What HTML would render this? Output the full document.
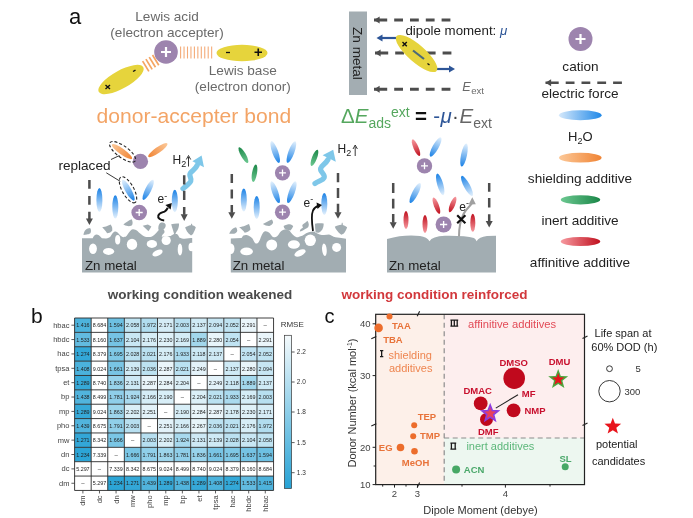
<!DOCTYPE html><html><head><meta charset="utf-8"><style>html,body{margin:0;padding:0;background:#fff;}svg{display:block;filter:blur(0.4px);}text{font-family:"Liberation Sans", sans-serif;}</style></head><body>
<svg width="693" height="518" viewBox="0 0 693 518">
<defs>
<linearGradient id="gB" x1="0" y1="0" x2="1" y2="0"><stop offset="0" stop-color="#e4f1fd"/><stop offset="1" stop-color="#1b82e6"/></linearGradient>
<linearGradient id="gBL" x1="0" y1="0" x2="1" y2="0"><stop offset="0" stop-color="#d4e8fb"/><stop offset="1" stop-color="#2189e8"/></linearGradient>
<linearGradient id="gO" x1="0" y1="0" x2="1" y2="0"><stop offset="0" stop-color="#fcc898"/><stop offset="1" stop-color="#f08434"/></linearGradient>
<linearGradient id="gG" x1="0" y1="0" x2="1" y2="0"><stop offset="0" stop-color="#6cc891"/><stop offset="1" stop-color="#1b8748"/></linearGradient>
<linearGradient id="gR" x1="0" y1="0" x2="1" y2="0"><stop offset="0" stop-color="#f79aa0"/><stop offset="1" stop-color="#c0101e"/></linearGradient>
<linearGradient id="gCB" x1="0" y1="1" x2="0" y2="0"><stop offset="0" stop-color="#26a2d5"/><stop offset="1" stop-color="#f5fafc"/></linearGradient>
</defs>
<text x="69" y="24" font-size="22" fill="#111" font-weight="normal" text-anchor="start"  >a</text>
<text x="167" y="21" font-size="13.6" fill="#6a6a6a" font-weight="normal" text-anchor="middle"  >Lewis acid</text>
<text x="167" y="37" font-size="13.6" fill="#6a6a6a" font-weight="normal" text-anchor="middle"  >(electron accepter)</text>
<text x="242.8" y="75" font-size="13.6" fill="#6a6a6a" font-weight="normal" text-anchor="middle"  >Lewis base</text>
<text x="242.8" y="91" font-size="13.6" fill="#6a6a6a" font-weight="normal" text-anchor="middle"  >(electron donor)</text>
<text x="193.8" y="123" font-size="21.1" fill="#f3a466" font-weight="normal" text-anchor="middle"  >donor-accepter bond</text>
<line x1="180.60" y1="46.5" x2="180.60" y2="58.5" stroke="#f4ab78" stroke-width="1.1"/>
<line x1="184.05" y1="46.5" x2="184.05" y2="58.5" stroke="#f4ab78" stroke-width="1.1"/>
<line x1="187.50" y1="46.5" x2="187.50" y2="58.5" stroke="#f4ab78" stroke-width="1.1"/>
<line x1="190.95" y1="46.5" x2="190.95" y2="58.5" stroke="#f4ab78" stroke-width="1.1"/>
<line x1="194.40" y1="46.5" x2="194.40" y2="58.5" stroke="#f4ab78" stroke-width="1.1"/>
<line x1="197.85" y1="46.5" x2="197.85" y2="58.5" stroke="#f4ab78" stroke-width="1.1"/>
<line x1="201.30" y1="46.5" x2="201.30" y2="58.5" stroke="#f4ab78" stroke-width="1.1"/>
<line x1="204.75" y1="46.5" x2="204.75" y2="58.5" stroke="#f4ab78" stroke-width="1.1"/>
<line x1="208.20" y1="46.5" x2="208.20" y2="58.5" stroke="#f4ab78" stroke-width="1.1"/>
<line x1="211.65" y1="46.5" x2="211.65" y2="58.5" stroke="#f4ab78" stroke-width="1.1"/>
<line x1="142.63" y1="61.15" x2="148.87" y2="71.35" stroke="#f5a562" stroke-width="1.7"/>
<line x1="145.93" y1="59.12" x2="152.17" y2="69.32" stroke="#f5a562" stroke-width="1.7"/>
<line x1="149.23" y1="57.09" x2="155.47" y2="67.29" stroke="#f5a562" stroke-width="1.7"/>
<line x1="152.53" y1="55.06" x2="158.77" y2="65.26" stroke="#f5a562" stroke-width="1.7"/>
<ellipse cx="0" cy="0" rx="25.5" ry="9" fill="#e6d43c" transform="translate(121,79.5) rotate(-29)"/>
<ellipse cx="242" cy="53" rx="25.5" ry="8.2" fill="#e6d43c"/>
<circle cx="166" cy="52" r="11.8" fill="#9d84ae"/>
<path d="M161,52H171M166,47V57" stroke="#fff" stroke-width="2.2"/>
<path d="M226,52.5h4" stroke="#111" stroke-width="1.3"/>
<path d="M254.5,52.3h7.5M258.25,48.5v7.5" stroke="#111" stroke-width="1.6"/>
<path d="M133,71.5l2.5,-1.3" stroke="#111" stroke-width="1.4"/>
<path d="M105.5,85l4.5,4M110,85l-4.5,4" stroke="#111" stroke-width="1.4"/>
<rect x="349" y="11.5" width="18" height="83.5" fill="#a3adb2"/>
<text x="0" y="0" font-size="13.6" fill="#222" transform="translate(353.3,27) rotate(90)">Zn metal</text>
<line x1="374.00" y1="20.00" x2="451" y2="20" stroke="#4d4d4d" stroke-width="3" stroke-dasharray="13.2,7.0,8.8,7.0,8.8,7.0,8.8,7.0,8.8,7.0,8.8,7.0,8.8,7.0"/>
<path d="M374,20L379.60,16.50L379.60,23.50Z" fill="#4d4d4d"/>
<line x1="375.00" y1="53.00" x2="452" y2="53" stroke="#4d4d4d" stroke-width="3" stroke-dasharray="13.2,7.0,8.8,7.0,8.8,7.0,8.8,7.0,8.8,7.0,8.8,7.0,8.8,7.0"/>
<path d="M375,53L380.60,49.50L380.60,56.50Z" fill="#4d4d4d"/>
<line x1="374.00" y1="89.30" x2="451" y2="89.3" stroke="#4d4d4d" stroke-width="3" stroke-dasharray="13.2,7.0,8.8,7.0,8.8,7.0,8.8,7.0,8.8,7.0,8.8,7.0,8.8,7.0"/>
<path d="M374,89.3L379.60,85.80L379.60,92.80Z" fill="#4d4d4d"/>
<line x1="397" y1="38" x2="381.50" y2="38.00" stroke="#2d5597" stroke-width="2.2"/>
<path d="M376.5,38L382.50,34.50L382.50,41.50Z" fill="#2d5597"/>
<line x1="435" y1="69" x2="450.00" y2="69.00" stroke="#2d5597" stroke-width="2.2"/>
<path d="M455,69L449.00,72.50L449.00,65.50Z" fill="#2d5597"/>
<ellipse cx="0" cy="0" rx="26.5" ry="8.6" fill="#e6d43c" transform="translate(416.6,53.5) rotate(41)"/>
<path d="M402.5,42l4.3,4.3M406.8,42l-4.3,4.3" stroke="#111" stroke-width="1.4"/>
<path d="M413,50.5L424,59" stroke="#4b6a7a" stroke-width="2.2"/>
<path d="M427.5,63.5l2,1.6" stroke="#111" stroke-width="1.3"/>
<text x="405.4" y="35" font-size="13.3" fill="#222" font-weight="normal" text-anchor="start"  >dipole moment: <tspan fill="#2d5597" font-style="italic">μ</tspan></text>
<text x="462.3" y="91.2" font-size="12.8" fill="#6a6a6a" font-weight="normal" text-anchor="start"  ><tspan font-style="italic" font-size="12.8">E</tspan><tspan font-size="9.6" dy="2.6" dx="0.3">ext</tspan></text>
<text x="341" y="123" font-size="20.5" fill="#55a75e">Δ<tspan font-style="italic">E</tspan><tspan font-size="14" dy="4.5">ads</tspan><tspan font-size="14" dy="-11">ext</tspan><tspan fill="#111" dy="6.5" dx="5.3" font-weight="bold">=</tspan><tspan fill="#2d5597" dx="6.3">-</tspan><tspan fill="#2d5597" font-style="italic" dx="0.4">μ</tspan><tspan fill="#444" dx="0.4">·</tspan><tspan fill="#666" font-style="italic" dx="0.6">E</tspan><tspan fill="#666" font-size="14" dy="4.5">ext</tspan></text>
<circle cx="580.5" cy="39" r="12" fill="#9d84ae"/>
<path d="M575.5,39H585.5M580.5,34V44" stroke="#fff" stroke-width="2.2"/>
<text x="580.5" y="71" font-size="13.6" fill="#222" font-weight="normal" text-anchor="middle"  >cation</text>
<line x1="545.50" y1="82.80" x2="622" y2="82.8" stroke="#4d4d4d" stroke-width="2.6" stroke-dasharray="13.2,7.0,8.8,7.0,8.8,7.0,8.8,7.0,8.8,7.0,8.8,7.0,8.8,7.0"/>
<path d="M545.5,82.8L551.10,79.30L551.10,86.30Z" fill="#4d4d4d"/>
<text x="580" y="98" font-size="13.6" fill="#222" font-weight="normal" text-anchor="middle"  >electric force</text>
<ellipse cx="580.3" cy="115.2" rx="21.3" ry="5" fill="url(#gBL)"/>
<text x="580.3" y="141" font-size="13" fill="#222" text-anchor="middle">H<tspan font-size="9" dy="3">2</tspan><tspan dy="-3">O</tspan></text>
<ellipse cx="580.3" cy="157.7" rx="21.3" ry="4.9" fill="url(#gO)"/>
<text x="580" y="183" font-size="13.6" fill="#222" font-weight="normal" text-anchor="middle"  >shielding additive</text>
<ellipse cx="580.5" cy="199.8" rx="19.7" ry="4.6" fill="url(#gG)"/>
<text x="580" y="225" font-size="13.6" fill="#222" font-weight="normal" text-anchor="middle"  >inert additive</text>
<ellipse cx="580.5" cy="241.5" rx="19.7" ry="4.5" fill="url(#gR)"/>
<text x="580" y="266.5" font-size="13.6" fill="#222" font-weight="normal" text-anchor="middle"  >affinitive additive</text>
<path d="M82,238.2 L92.7,238.2 C93.5,236 95,234.6 96.7,234.5 C98,234.5 99.5,235.5 101.9,238.2 L106,238.5 C108,238.2 109.5,237.5 110.5,236.5 C111.5,235 112.5,232.5 114,231.9 C115,231.4 116,231.2 117.3,232.3 C118.5,233.5 120.5,236 122.5,237.1 C124,237.3 125.5,237 126.5,236 C127.5,234.5 128.5,233 130,231.2 C131,230 131.8,229.3 132.8,229.2 C134.5,229.1 136,229.8 137.5,231 C139.5,233 141,234.5 142.7,235.4 C144.5,236.4 146,237.1 147.3,237.1 C149.5,237.2 151,236.8 152,236.5 C153.5,235.5 155,234.2 156,233.2 C157,232 158,231 158.8,230 L158.3,229 C158.3,226 158.8,223.5 161,222.6 C163,222 165,222.6 165.6,224.5 C166,226.5 165,228.5 163.5,229.3 C164.5,230.5 164.8,232 164.3,232.8 C163.2,234 162,235.2 161.7,236.7 L170.8,236 C172,235 173.5,234.5 174.2,233.8 L175.2,233.8 C175.8,234 176.2,234 176.7,234.1 C178,234.5 178.8,236.5 179.3,237.4 C181,238.3 183,238.7 184.5,238.7 L191,238 L192.2,238 L192.2,272.6 L82,272.6 Z" fill="#a2adb2"/>
<ellipse cx="0" cy="0" rx="3.9" ry="5.2" fill="#fff" transform="translate(93,248.8) rotate(0)"/>
<ellipse cx="0" cy="0" rx="5.6" ry="3.5" fill="#fff" transform="translate(108.6,251.4) rotate(0)"/>
<ellipse cx="0" cy="0" rx="2.6" ry="4.8" fill="#fff" transform="translate(117.7,239.7) rotate(0)"/>
<ellipse cx="0" cy="0" rx="5.2" ry="5.6" fill="#fff" transform="translate(132,244.4) rotate(0)"/>
<ellipse cx="0" cy="0" rx="5.2" ry="3.9" fill="#fff" transform="translate(151.9,244) rotate(0)"/>
<ellipse cx="0" cy="0" rx="4.6" ry="4.6" fill="#fff" transform="translate(166.2,240.5) rotate(0)"/>
<ellipse cx="0" cy="0" rx="5.5" ry="2.8" fill="#fff" transform="translate(157.5,253) rotate(-25)"/>
<ellipse cx="0" cy="0" rx="2.3" ry="6" fill="#fff" transform="translate(180,249.6) rotate(0)"/>
<ellipse cx="0" cy="0" rx="3" ry="4.2" fill="#fff" transform="translate(191.5,247) rotate(0)"/>
<path d="M83.5,235 C83.8,232.5 84.5,231 85.5,230 C87,228.8 88.5,228.2 90.1,228.1 C90.8,229 91.1,230 91,231 C90.9,232 90.7,232.8 90.4,233.3 C89,234.2 88,234.4 86.9,234.5 C85.5,234.6 84.5,234.8 83.5,235 Z" fill="#a2adb2"/>
<path d="M102.2,227.3 L106,226.5 L110.6,224.4 C111.5,225.5 112,226.5 112.2,227.8 L112.3,230.4 C111.5,231.5 110.5,232.3 109.5,232.8 L107.1,233.2 C106,231.5 105,230.5 104.3,229.5 Z" fill="#a2adb2"/>
<path d="M123.4,224.4 C125.5,222.5 128.5,220.5 131.7,219.2 C132.3,220.2 132.6,221.5 132.6,222.7 C132.5,224 132.2,225 131.7,225.5 C130.5,226 129,226.2 127.7,226.1 C126,225.8 124.5,225.2 123.4,224.4 Z" fill="#a2adb2"/>
<path d="M142.7,225.8 L147.9,224.4 L151.4,226.4 L148.5,231.3 Z" fill="#a2adb2"/>
<path d="M171.2,224.3 C173.5,223.7 176.5,223.4 179,223.6 C179.2,226 178.5,228.5 177.5,230.3 C176.5,231.8 175.8,232.8 175.2,234.5 L174.2,234.5 C173.5,231 172.2,228 171.2,224.3 Z" fill="#a2adb2"/>
<path d="M185.1,227.6 C186.5,226.5 188.5,225.5 190.8,225.2 L191.2,223.7 L192,223.7 L192.3,225.2 C193.8,225.6 195,226.3 195.8,227.3 C195.2,229.5 194,232 193,234 L191,235.4 C189.5,234.5 188,233 187,231.5 C186.2,230 185.5,228.8 185.1,227.6 Z" fill="#a2adb2"/>
<text x="85" y="269.6" font-size="13.3" fill="#222" font-weight="normal" text-anchor="start"  >Zn metal</text>
<path d="M230.8,238.4 L241.6,238.1 C242.3,237 242.8,236 243.4,235.6 C244.5,235 245.5,234.9 246.5,235 C247.8,235.2 248.8,235.6 249.6,236.2 C250.8,237 251.5,237.5 252.1,238.1 C252.8,239 253.3,240.3 253.9,241.2 C254.6,242.5 255.5,243.6 256.4,243.6 C257.5,243.6 258.3,242.8 258.9,241.8 C259.8,240.5 260.2,239 260.7,237.5 C261.5,235.5 262.3,233.8 263.2,232.5 C264,231.6 264.8,231.4 265.7,231.3 C266.5,231.3 267,231.5 267.6,231.8 C268.8,232.3 269.3,233 270,233.6 C271,234.8 271.7,236 272.5,236.7 C273.3,237.2 274.2,237.3 275,237.3 C276,237.2 276.8,236.8 277.4,236.1 C278.3,235 279,233.6 279.9,232.4 C280.8,231.2 281.8,230.3 283,229.9 C284.3,229.4 285.5,229.2 286.7,229.3 C288,229.5 289,230.2 289.8,231.1 C290.8,232.4 291.8,233.8 292.9,234.8 C294,235.8 295.2,236.8 296.6,237.3 C298,237.6 299,236.8 302.3,235.8 C304,234.8 305.5,233.5 306.7,232.9 C308,232.3 309.5,232 311,231.8 L314.6,231.5 L315.2,232.6 L319.6,234.4 C321,234.8 322.5,235.1 324,235.1 C325.8,235 327.5,234.5 329,234.4 C330,234.5 331,235.3 331.9,235.8 C333,236.5 334.2,237 335.5,237.3 L341.3,238 L346,238.7 L346,272.6 L230.8,272.6 Z" fill="#a2adb2"/>
<ellipse cx="0" cy="0" rx="3.5" ry="5.2" fill="#fff" transform="translate(231,248.8) rotate(0)"/>
<ellipse cx="0" cy="0" rx="6.3" ry="3.9" fill="#fff" transform="translate(246.6,251.4) rotate(0)"/>
<ellipse cx="0" cy="0" rx="5.5" ry="5.5" fill="#fff" transform="translate(271.7,244.9) rotate(0)"/>
<ellipse cx="0" cy="0" rx="6" ry="4.3" fill="#fff" transform="translate(293.9,244.5) rotate(0)"/>
<ellipse cx="0" cy="0" rx="5.6" ry="5.8" fill="#fff" transform="translate(310.3,240.3) rotate(0)"/>
<ellipse cx="0" cy="0" rx="6" ry="2.9" fill="#fff" transform="translate(300,253) rotate(-25)"/>
<ellipse cx="0" cy="0" rx="2.3" ry="6.3" fill="#fff" transform="translate(324.4,249.7) rotate(-5)"/>
<ellipse cx="0" cy="0" rx="4.5" ry="4.5" fill="#fff" transform="translate(336.6,247.4) rotate(0)"/>
<path d="M229.2,233.8 C230,231.5 231.5,229.5 233,228.5 C234,227.8 235,227.4 236,227.3 C236.8,228.2 237.2,229.5 237.3,230.7 C237,232 236,233.2 234.2,233.8 Z" fill="#a2adb2"/>
<path d="M239.1,227.3 C241.5,226.8 243.5,226.5 245,225.8 C246.5,225 247.8,224.3 249,223.9 C249.8,225.5 250.3,227.5 250.5,229.4 C249.5,231 247.5,232.2 244.7,232.8 C243.5,231 241.5,229 239.1,227.3 Z" fill="#a2adb2"/>
<path d="M262.9,224 C265,222.8 267.5,221.5 269.5,220.5 C270.3,220 271.2,219.6 271.9,219.4 C272.6,220.3 273,221.3 273.1,222.5 C272.8,224 271.5,225.3 269.4,225.9 C267,226 264.8,225.3 262.9,224 Z" fill="#a2adb2"/>
<path d="M283.6,225.9 C285.5,225 287.8,224.3 289.8,224.3 C291.3,224.6 292.5,225.3 293.2,226.2 C292.6,227.8 291.6,229.3 290.4,230.5 C288.5,230.3 286,229.5 284.3,228.2 Z" fill="#a2adb2"/>
<path d="M299.8,231.5 C299.9,230.3 300.3,229.5 300.9,229 C301.7,228.4 302.5,228 303,227.5 C302.5,226.5 302.2,225.7 302.3,225 C303.2,224 304.2,223.3 305.2,222.8 C306,222.2 306.8,221.3 307.4,220.7 C308.2,221.8 308.7,223 308.8,224.3 C308.8,225.5 308.6,226.5 308.1,227.2 C307.2,228 306.2,228.5 305.2,229 C304.2,229.7 303.2,230.3 302.3,230.8 C301.5,231.3 300.6,231.5 299.8,231.5 Z" fill="#a2adb2"/>
<path d="M315,223.8 C317.5,223.3 320.5,223.2 323.6,223.5 C323.8,225.5 323.3,227.5 322.3,229.5 C321.3,231 320,232.2 318.5,232.8 L315.6,232.6 C315.2,229.5 315,226.5 315,223.8 Z" fill="#a2adb2"/>
<path d="M334.8,226.8 C336.5,225.7 338.8,225 341.5,224.8 L341.8,222.8 L342.6,222.8 L342.9,224.9 C344.6,225.4 346,226.2 347.1,227.2 C346.5,229.5 345,232 343.5,233.8 L341.3,234.7 C339.5,233.5 338,232 336.8,230.3 C335.8,229.2 335.2,228 334.8,226.8 Z" fill="#a2adb2"/>
<text x="232.7" y="269.6" font-size="13.3" fill="#222" font-weight="normal" text-anchor="start"  >Zn metal</text>
<path d="M387,238.9 Q405,234 420,236 Q427,237 429.5,241.3 Q432,236.5 445,235.8 Q465,235.5 474,238 Q476,239.5 476.6,241.3 Q479,237 487,236 L496,235.8 L496,272.6 L387,272.6 Z" fill="#a2adb2"/>
<text x="389" y="269.6" font-size="13.3" fill="#222" font-weight="normal" text-anchor="start"  >Zn metal</text>
<path d="M89.4,180.1V188.8M89.4,196.1V204.8M89.4,211.7V218.9" stroke="#4d4d4d" stroke-width="2.5" fill="none"/>
<path d="M89.4,225L85.9,218.4L92.9,218.4Z" fill="#4d4d4d"/>
<ellipse cx="0" cy="0" rx="12.3" ry="2.9" fill="url(#gO)" transform="translate(122,151.6) rotate(35.6)"/>
<ellipse cx="0" cy="0" rx="11.6" ry="2.9" fill="url(#gO)" transform="translate(157.8,150.2) rotate(145)"/>
<circle cx="140.4" cy="161.4" r="7.7" fill="#9d84ae"/>
<ellipse cx="0" cy="0" rx="15.6" ry="5.8" fill="none" stroke="#222" stroke-width="1.1" stroke-dasharray="3,2" transform="translate(122.6,151.8) rotate(36)"/>
<ellipse cx="0" cy="0" rx="11.9" ry="3.0" fill="url(#gB)" transform="translate(128.3,190.2) rotate(60.9)"/>
<ellipse cx="0" cy="0" rx="14.6" ry="5.8" fill="none" stroke="#222" stroke-width="1.1" stroke-dasharray="3,2" transform="translate(128,189.8) rotate(61)"/>
<ellipse cx="0" cy="0" rx="11.2" ry="3.0" fill="url(#gB)" transform="translate(148.2,189.8) rotate(116.6)"/>
<circle cx="139.2" cy="212.5" r="7.8" fill="#9d84ae"/>
<path d="M135.69,212.5H142.70999999999998M139.2,208.99V216.01" stroke="#fff" stroke-width="1.326"/>
<ellipse cx="0" cy="0" rx="12" ry="3.0" fill="url(#gB)" transform="translate(99.4,200) rotate(-90)"/>
<ellipse cx="0" cy="0" rx="11.7" ry="3.0" fill="url(#gB)" transform="translate(115.3,206.9) rotate(-90)"/>
<ellipse cx="0" cy="0" rx="11.2" ry="3.0" fill="url(#gB)" transform="translate(174.8,201) rotate(-90)"/>
<text x="58.4" y="169.8" font-size="13.6" fill="#222" font-weight="normal" text-anchor="start"  >replaced</text>
<path d="M111,159.5L119.5,155.5M106.3,172.8L120.2,181.3" stroke="#222" stroke-width="0.9"/>
<text x="157.5" y="203" font-size="12" fill="#222">e<tspan font-size="9" dy="-4.5">-</tspan></text>
<path d="M164.2,220.4 C160,220 157.6,218 158.3,215.6 C159,213 162,212.6 164.5,211.6 C166.3,210.8 167,209.5 167.8,207.8" fill="none" stroke="#111" stroke-width="2"/>
<path d="M171.8,203 L165.4,205 L170.6,209.4 Z" fill="#111"/>
<text x="172.5" y="163.6" font-size="12" fill="#222">H<tspan font-size="9" dy="3">2</tspan></text>
<path d="M188.5,166.5V157M186.3,159.5L188.5,155.5L190.7,159.5" stroke="#222" stroke-width="0.9" fill="none"/>
<path d="M183,188.6 C186,186 189.5,184 190.8,181 C192,178 188.5,176 190.3,173.2 C192,170.5 195.5,169.5 197.3,165" fill="none" stroke="#7ec7e9" stroke-width="5.2" stroke-linejoin="round" stroke-linecap="round"/>
<path d="M201.6,155.6 L192.4,161.3 L204,167.3 Z" fill="#7ec7e9"/>
<path d="M184.2,175.2V184.5M184.2,190.8V200M184.2,207V214.8" stroke="#4d4d4d" stroke-width="2.5" fill="none"/>
<path d="M184.2,220.9L180.7,214.3L187.7,214.3Z" fill="#4d4d4d"/>
<path d="M231.8,174V182.9M231.8,189.5V198.5M231.8,204.9V212.70000000000002" stroke="#4d4d4d" stroke-width="2.5" fill="none"/>
<path d="M231.8,218.8L228.3,212.20000000000002L235.3,212.20000000000002Z" fill="#4d4d4d"/>
<path d="M338,172.9V182.3M338,188.1V198M338,203.7V212.70000000000002" stroke="#4d4d4d" stroke-width="2.5" fill="none"/>
<path d="M338,218.8L334.5,212.20000000000002L341.5,212.20000000000002Z" fill="#4d4d4d"/>
<ellipse cx="0" cy="0" rx="9" ry="2.5" fill="url(#gG)" transform="translate(243.4,155.1) rotate(-119.5)"/>
<ellipse cx="0" cy="0" rx="8.9" ry="2.5" fill="url(#gG)" transform="translate(254.5,173.2) rotate(-80.6)"/>
<ellipse cx="0" cy="0" rx="8.7" ry="2.5" fill="url(#gG)" transform="translate(314.45,157.85) rotate(-68.9)"/>
<ellipse cx="0" cy="0" rx="11.5" ry="3.0" fill="url(#gB)" transform="translate(275.2,152) rotate(70.4)"/>
<ellipse cx="0" cy="0" rx="11.5" ry="3.0" fill="url(#gB)" transform="translate(291.4,152) rotate(109.9)"/>
<circle cx="282.5" cy="172.8" r="7.6" fill="#9d84ae"/>
<path d="M279.08,172.8H285.92M282.5,169.38000000000002V176.22" stroke="#fff" stroke-width="1.292"/>
<ellipse cx="0" cy="0" rx="11.5" ry="3.0" fill="url(#gB)" transform="translate(275.2,192.2) rotate(70.4)"/>
<ellipse cx="0" cy="0" rx="11.5" ry="3.0" fill="url(#gB)" transform="translate(291.8,192.2) rotate(109.9)"/>
<circle cx="282.5" cy="212.2" r="7.6" fill="#9d84ae"/>
<path d="M279.08,212.2H285.92M282.5,208.78V215.61999999999998" stroke="#fff" stroke-width="1.292"/>
<ellipse cx="0" cy="0" rx="11.5" ry="3.0" fill="url(#gB)" transform="translate(243.8,200) rotate(-90)"/>
<ellipse cx="0" cy="0" rx="11.5" ry="3.0" fill="url(#gB)" transform="translate(256.7,207.5) rotate(-90)"/>
<ellipse cx="0" cy="0" rx="11" ry="3.0" fill="url(#gB)" transform="translate(324.3,204) rotate(-90)"/>
<text x="303.5" y="206.8" font-size="12" fill="#222">e<tspan font-size="9" dy="-4.5">-</tspan></text>
<path d="M313,231 C312,224 311,215 313,210.5 C314.5,207.5 316,206.5 318.5,206" fill="none" stroke="#111" stroke-width="1.8"/>
<path d="M322,205 L316.5,202.5 L317.5,209 Z" fill="#111"/>
<text x="337.5" y="153.2" font-size="12" fill="#222">H<tspan font-size="9" dy="3">2</tspan></text>
<path d="M355.2,156V146.5M353,149L355.2,145L357.4,149" stroke="#222" stroke-width="0.9" fill="none"/>
<path d="M315,183.5 C318,181 323,180.5 324.2,177.5 C325.3,174 319.8,172 320.6,168.5 C321.5,165 325.5,164.3 328,159.5" fill="none" stroke="#7ec7e9" stroke-width="5.2" stroke-linejoin="round" stroke-linecap="round"/>
<path d="M333.2,149.8 L322.6,155.3 L335.8,161.8 Z" fill="#7ec7e9"/>
<path d="M393.2,183.1V192.9M393.2,198.7V208.5M393.2,214.1V222.70000000000002" stroke="#4d4d4d" stroke-width="2.5" fill="none"/>
<path d="M393.2,228.8L389.7,222.20000000000002L396.7,222.20000000000002Z" fill="#4d4d4d"/>
<path d="M489.2,182.9V191.8M489.2,198.1V207.6M489.2,214.3V221.5" stroke="#4d4d4d" stroke-width="2.5" fill="none"/>
<path d="M489.2,227.6L485.7,221.0L492.7,221.0Z" fill="#4d4d4d"/>
<ellipse cx="0" cy="0" rx="9" ry="2.5" fill="url(#gR)" transform="translate(416,147.7) rotate(66.6)"/>
<ellipse cx="0" cy="0" rx="11" ry="3.0" fill="url(#gB)" transform="translate(435.6,147) rotate(119.2)"/>
<circle cx="424.5" cy="165.9" r="7.7" fill="#9d84ae"/>
<path d="M421.035,165.9H427.965M424.5,162.435V169.365" stroke="#fff" stroke-width="1.3090000000000002"/>
<ellipse cx="0" cy="0" rx="11.2" ry="3.0" fill="url(#gB)" transform="translate(440.2,184.4) rotate(-106)"/>
<ellipse cx="0" cy="0" rx="11.2" ry="3.0" fill="url(#gB)" transform="translate(415.2,193) rotate(116.7)"/>
<ellipse cx="0" cy="0" rx="11.8" ry="3.0" fill="url(#gB)" transform="translate(464,155) rotate(101.5)"/>
<ellipse cx="0" cy="0" rx="11.4" ry="3.0" fill="url(#gB)" transform="translate(467,186) rotate(-118.4)"/>
<ellipse cx="0" cy="0" rx="8.7" ry="2.5" fill="url(#gR)" transform="translate(436.4,205.7) rotate(69.2)"/>
<ellipse cx="0" cy="0" rx="8.3" ry="2.5" fill="url(#gR)" transform="translate(452.6,204.5) rotate(111.9)"/>
<circle cx="443.6" cy="224.5" r="8" fill="#9d84ae"/>
<path d="M440.0,224.5H447.20000000000005M443.6,220.9V228.1" stroke="#fff" stroke-width="1.36"/>
<ellipse cx="0" cy="0" rx="9" ry="2.5" fill="url(#gR)" transform="translate(406,220) rotate(-90)"/>
<ellipse cx="0" cy="0" rx="9" ry="2.5" fill="url(#gR)" transform="translate(425,224) rotate(-90)"/>
<ellipse cx="0" cy="0" rx="9" ry="2.5" fill="url(#gR)" transform="translate(472.8,222.8) rotate(-90)"/>
<path d="M459,236.5 C459,228 460,221 463.5,214 C466,209 469.5,207 471.8,203.5" fill="none" stroke="#a0a0a0" stroke-width="2"/>
<path d="M472.3,197.2 L468.6,204.4 L475.8,204.2 Z" fill="#a0a0a0"/>
<text x="459.3" y="210.7" font-size="12" fill="#222">e<tspan font-size="9" dy="-4.5">-</tspan></text>
<path d="M457.2,215.3L465.4,223.3M465.4,215.3L457.2,223.3" stroke="#111" stroke-width="2.2"/>
<text x="200" y="298.8" font-size="13.5" fill="#4a4a4a" font-weight="bold" text-anchor="middle"  >working condition weakened</text>
<text x="434.5" y="298.8" font-size="13.5" fill="#d2383c" font-weight="bold" text-anchor="middle"  >working condition reinforced</text>
<text x="31" y="323" font-size="21" fill="#111" font-weight="normal" text-anchor="start"  >b</text>
<rect x="74.60" y="318.00" width="16.58" height="14.37" fill="#4db3dc"/>
<rect x="91.18" y="318.00" width="16.58" height="14.37" fill="#ffffff"/>
<rect x="107.76" y="318.00" width="16.58" height="14.37" fill="#6dc0e2"/>
<rect x="124.34" y="318.00" width="16.58" height="14.37" fill="#c0e4f2"/>
<rect x="140.92" y="318.00" width="16.58" height="14.37" fill="#b1ddef"/>
<rect x="157.50" y="318.00" width="16.58" height="14.37" fill="#d5ecf6"/>
<rect x="174.08" y="318.00" width="16.58" height="14.37" fill="#b7dff0"/>
<rect x="190.66" y="318.00" width="16.58" height="14.37" fill="#cfeaf5"/>
<rect x="207.24" y="318.00" width="16.58" height="14.37" fill="#c7e6f3"/>
<rect x="223.82" y="318.00" width="16.58" height="14.37" fill="#bfe3f2"/>
<rect x="240.40" y="318.00" width="16.58" height="14.37" fill="#eaf5fa"/>
<rect x="256.98" y="318.00" width="16.58" height="14.37" fill="#ffffff"/>
<rect x="74.60" y="332.37" width="16.58" height="14.37" fill="#62bbe0"/>
<rect x="91.18" y="332.37" width="16.58" height="14.37" fill="#ffffff"/>
<rect x="107.76" y="332.37" width="16.58" height="14.37" fill="#75c3e4"/>
<rect x="124.34" y="332.37" width="16.58" height="14.37" fill="#c9e7f4"/>
<rect x="140.92" y="332.37" width="16.58" height="14.37" fill="#d6edf6"/>
<rect x="157.50" y="332.37" width="16.58" height="14.37" fill="#dff1f8"/>
<rect x="174.08" y="332.37" width="16.58" height="14.37" fill="#d4ecf6"/>
<rect x="190.66" y="332.37" width="16.58" height="14.37" fill="#a2d7ec"/>
<rect x="207.24" y="332.37" width="16.58" height="14.37" fill="#e8f5fa"/>
<rect x="223.82" y="332.37" width="16.58" height="14.37" fill="#c0e3f2"/>
<rect x="240.40" y="332.37" width="16.58" height="14.37" fill="#ffffff"/>
<rect x="256.98" y="332.37" width="16.58" height="14.37" fill="#eaf5fa"/>
<rect x="74.60" y="346.74" width="16.58" height="14.37" fill="#33a8d8"/>
<rect x="91.18" y="346.74" width="16.58" height="14.37" fill="#ffffff"/>
<rect x="107.76" y="346.74" width="16.58" height="14.37" fill="#7fc8e6"/>
<rect x="124.34" y="346.74" width="16.58" height="14.37" fill="#bbe1f1"/>
<rect x="140.92" y="346.74" width="16.58" height="14.37" fill="#bae1f1"/>
<rect x="157.50" y="346.74" width="16.58" height="14.37" fill="#d6edf6"/>
<rect x="174.08" y="346.74" width="16.58" height="14.37" fill="#aadaee"/>
<rect x="190.66" y="346.74" width="16.58" height="14.37" fill="#cbe8f4"/>
<rect x="207.24" y="346.74" width="16.58" height="14.37" fill="#cfeaf5"/>
<rect x="223.82" y="346.74" width="16.58" height="14.37" fill="#ffffff"/>
<rect x="240.40" y="346.74" width="16.58" height="14.37" fill="#c0e3f2"/>
<rect x="256.98" y="346.74" width="16.58" height="14.37" fill="#bfe3f2"/>
<rect x="74.60" y="361.11" width="16.58" height="14.37" fill="#4bb2dc"/>
<rect x="91.18" y="361.11" width="16.58" height="14.37" fill="#ffffff"/>
<rect x="107.76" y="361.11" width="16.58" height="14.37" fill="#79c5e5"/>
<rect x="124.34" y="361.11" width="16.58" height="14.37" fill="#cfeaf5"/>
<rect x="140.92" y="361.11" width="16.58" height="14.37" fill="#bce2f1"/>
<rect x="157.50" y="361.11" width="16.58" height="14.37" fill="#eaf5fa"/>
<rect x="174.08" y="361.11" width="16.58" height="14.37" fill="#bae1f1"/>
<rect x="190.66" y="361.11" width="16.58" height="14.37" fill="#e3f2f9"/>
<rect x="207.24" y="361.11" width="16.58" height="14.37" fill="#ffffff"/>
<rect x="223.82" y="361.11" width="16.58" height="14.37" fill="#cfeaf5"/>
<rect x="240.40" y="361.11" width="16.58" height="14.37" fill="#e8f5fa"/>
<rect x="256.98" y="361.11" width="16.58" height="14.37" fill="#c7e6f3"/>
<rect x="74.60" y="375.48" width="16.58" height="14.37" fill="#36a9d8"/>
<rect x="91.18" y="375.48" width="16.58" height="14.37" fill="#ffffff"/>
<rect x="107.76" y="375.48" width="16.58" height="14.37" fill="#98d3eb"/>
<rect x="124.34" y="375.48" width="16.58" height="14.37" fill="#cee9f5"/>
<rect x="140.92" y="375.48" width="16.58" height="14.37" fill="#eaf5fa"/>
<rect x="157.50" y="375.48" width="16.58" height="14.37" fill="#e9f5fa"/>
<rect x="174.08" y="375.48" width="16.58" height="14.37" fill="#dbeff7"/>
<rect x="190.66" y="375.48" width="16.58" height="14.37" fill="#ffffff"/>
<rect x="207.24" y="375.48" width="16.58" height="14.37" fill="#e3f2f9"/>
<rect x="223.82" y="375.48" width="16.58" height="14.37" fill="#cbe8f4"/>
<rect x="240.40" y="375.48" width="16.58" height="14.37" fill="#a2d7ec"/>
<rect x="256.98" y="375.48" width="16.58" height="14.37" fill="#cfeaf5"/>
<rect x="74.60" y="389.85" width="16.58" height="14.37" fill="#51b4dd"/>
<rect x="91.18" y="389.85" width="16.58" height="14.37" fill="#ffffff"/>
<rect x="107.76" y="389.85" width="16.58" height="14.37" fill="#8fcee9"/>
<rect x="124.34" y="389.85" width="16.58" height="14.37" fill="#a8d9ee"/>
<rect x="140.92" y="389.85" width="16.58" height="14.37" fill="#d4ecf6"/>
<rect x="157.50" y="389.85" width="16.58" height="14.37" fill="#d8eef7"/>
<rect x="174.08" y="389.85" width="16.58" height="14.37" fill="#ffffff"/>
<rect x="190.66" y="389.85" width="16.58" height="14.37" fill="#dbeff7"/>
<rect x="207.24" y="389.85" width="16.58" height="14.37" fill="#bae1f1"/>
<rect x="223.82" y="389.85" width="16.58" height="14.37" fill="#aadaee"/>
<rect x="240.40" y="389.85" width="16.58" height="14.37" fill="#d4ecf6"/>
<rect x="256.98" y="389.85" width="16.58" height="14.37" fill="#b7dff0"/>
<rect x="74.60" y="404.22" width="16.58" height="14.37" fill="#36a9d8"/>
<rect x="91.18" y="404.22" width="16.58" height="14.37" fill="#ffffff"/>
<rect x="107.76" y="404.22" width="16.58" height="14.37" fill="#9dd5eb"/>
<rect x="124.34" y="404.22" width="16.58" height="14.37" fill="#daeff7"/>
<rect x="140.92" y="404.22" width="16.58" height="14.37" fill="#e3f2f9"/>
<rect x="157.50" y="404.22" width="16.58" height="14.37" fill="#ffffff"/>
<rect x="174.08" y="404.22" width="16.58" height="14.37" fill="#d8eef7"/>
<rect x="190.66" y="404.22" width="16.58" height="14.37" fill="#e9f5fa"/>
<rect x="207.24" y="404.22" width="16.58" height="14.37" fill="#eaf5fa"/>
<rect x="223.82" y="404.22" width="16.58" height="14.37" fill="#d6edf6"/>
<rect x="240.40" y="404.22" width="16.58" height="14.37" fill="#dff1f8"/>
<rect x="256.98" y="404.22" width="16.58" height="14.37" fill="#d5ecf6"/>
<rect x="74.60" y="418.59" width="16.58" height="14.37" fill="#51b4dd"/>
<rect x="91.18" y="418.59" width="16.58" height="14.37" fill="#ffffff"/>
<rect x="107.76" y="418.59" width="16.58" height="14.37" fill="#90cfe9"/>
<rect x="124.34" y="418.59" width="16.58" height="14.37" fill="#b7dff0"/>
<rect x="140.92" y="418.59" width="16.58" height="14.37" fill="#ffffff"/>
<rect x="157.50" y="418.59" width="16.58" height="14.37" fill="#e3f2f9"/>
<rect x="174.08" y="418.59" width="16.58" height="14.37" fill="#d4ecf6"/>
<rect x="190.66" y="418.59" width="16.58" height="14.37" fill="#e6f4f9"/>
<rect x="207.24" y="418.59" width="16.58" height="14.37" fill="#bce2f1"/>
<rect x="223.82" y="418.59" width="16.58" height="14.37" fill="#bae1f1"/>
<rect x="240.40" y="418.59" width="16.58" height="14.37" fill="#d6edf6"/>
<rect x="256.98" y="418.59" width="16.58" height="14.37" fill="#b1ddef"/>
<rect x="74.60" y="432.96" width="16.58" height="14.37" fill="#33a7d7"/>
<rect x="91.18" y="432.96" width="16.58" height="14.37" fill="#ffffff"/>
<rect x="107.76" y="432.96" width="16.58" height="14.37" fill="#7ac6e5"/>
<rect x="124.34" y="432.96" width="16.58" height="14.37" fill="#ffffff"/>
<rect x="140.92" y="432.96" width="16.58" height="14.37" fill="#b7dff0"/>
<rect x="157.50" y="432.96" width="16.58" height="14.37" fill="#daeff7"/>
<rect x="174.08" y="432.96" width="16.58" height="14.37" fill="#a8d9ee"/>
<rect x="190.66" y="432.96" width="16.58" height="14.37" fill="#cee9f5"/>
<rect x="207.24" y="432.96" width="16.58" height="14.37" fill="#cfeaf5"/>
<rect x="223.82" y="432.96" width="16.58" height="14.37" fill="#bbe1f1"/>
<rect x="240.40" y="432.96" width="16.58" height="14.37" fill="#c9e7f4"/>
<rect x="256.98" y="432.96" width="16.58" height="14.37" fill="#c0e4f2"/>
<rect x="74.60" y="447.33" width="16.58" height="14.37" fill="#2ca5d6"/>
<rect x="91.18" y="447.33" width="16.58" height="14.37" fill="#ffffff"/>
<rect x="107.76" y="447.33" width="16.58" height="14.37" fill="#ffffff"/>
<rect x="124.34" y="447.33" width="16.58" height="14.37" fill="#7ac6e5"/>
<rect x="140.92" y="447.33" width="16.58" height="14.37" fill="#90cfe9"/>
<rect x="157.50" y="447.33" width="16.58" height="14.37" fill="#9dd5eb"/>
<rect x="174.08" y="447.33" width="16.58" height="14.37" fill="#8fcee9"/>
<rect x="190.66" y="447.33" width="16.58" height="14.37" fill="#98d3eb"/>
<rect x="207.24" y="447.33" width="16.58" height="14.37" fill="#79c5e5"/>
<rect x="223.82" y="447.33" width="16.58" height="14.37" fill="#7fc8e6"/>
<rect x="240.40" y="447.33" width="16.58" height="14.37" fill="#75c3e4"/>
<rect x="256.98" y="447.33" width="16.58" height="14.37" fill="#6dc0e2"/>
<rect x="74.60" y="461.70" width="16.58" height="14.37" fill="#ffffff"/>
<rect x="91.18" y="461.70" width="16.58" height="14.37" fill="#ffffff"/>
<rect x="107.76" y="461.70" width="16.58" height="14.37" fill="#ffffff"/>
<rect x="124.34" y="461.70" width="16.58" height="14.37" fill="#ffffff"/>
<rect x="140.92" y="461.70" width="16.58" height="14.37" fill="#ffffff"/>
<rect x="157.50" y="461.70" width="16.58" height="14.37" fill="#ffffff"/>
<rect x="174.08" y="461.70" width="16.58" height="14.37" fill="#ffffff"/>
<rect x="190.66" y="461.70" width="16.58" height="14.37" fill="#ffffff"/>
<rect x="207.24" y="461.70" width="16.58" height="14.37" fill="#ffffff"/>
<rect x="223.82" y="461.70" width="16.58" height="14.37" fill="#ffffff"/>
<rect x="240.40" y="461.70" width="16.58" height="14.37" fill="#ffffff"/>
<rect x="256.98" y="461.70" width="16.58" height="14.37" fill="#ffffff"/>
<rect x="74.60" y="476.07" width="16.58" height="14.37" fill="#ffffff"/>
<rect x="91.18" y="476.07" width="16.58" height="14.37" fill="#ffffff"/>
<rect x="107.76" y="476.07" width="16.58" height="14.37" fill="#2ca5d6"/>
<rect x="124.34" y="476.07" width="16.58" height="14.37" fill="#33a7d7"/>
<rect x="140.92" y="476.07" width="16.58" height="14.37" fill="#51b4dd"/>
<rect x="157.50" y="476.07" width="16.58" height="14.37" fill="#36a9d8"/>
<rect x="174.08" y="476.07" width="16.58" height="14.37" fill="#51b4dd"/>
<rect x="190.66" y="476.07" width="16.58" height="14.37" fill="#36a9d8"/>
<rect x="207.24" y="476.07" width="16.58" height="14.37" fill="#4bb2dc"/>
<rect x="223.82" y="476.07" width="16.58" height="14.37" fill="#33a8d8"/>
<rect x="240.40" y="476.07" width="16.58" height="14.37" fill="#62bbe0"/>
<rect x="256.98" y="476.07" width="16.58" height="14.37" fill="#4db2dc"/>
<text x="0" y="0" font-size="6.1" fill="#222" text-anchor="middle" transform="translate(82.89,327.38) scale(0.88,1)">1.416</text>
<text x="0" y="0" font-size="6.1" fill="#222" text-anchor="middle" transform="translate(99.47,327.38) scale(0.88,1)">8.684</text>
<text x="0" y="0" font-size="6.1" fill="#222" text-anchor="middle" transform="translate(116.05,327.38) scale(0.88,1)">1.594</text>
<text x="0" y="0" font-size="6.1" fill="#222" text-anchor="middle" transform="translate(132.63,327.38) scale(0.88,1)">2.058</text>
<text x="0" y="0" font-size="6.1" fill="#222" text-anchor="middle" transform="translate(149.21,327.38) scale(0.88,1)">1.972</text>
<text x="0" y="0" font-size="6.1" fill="#222" text-anchor="middle" transform="translate(165.79,327.38) scale(0.88,1)">2.171</text>
<text x="0" y="0" font-size="6.1" fill="#222" text-anchor="middle" transform="translate(182.37,327.38) scale(0.88,1)">2.003</text>
<text x="0" y="0" font-size="6.1" fill="#222" text-anchor="middle" transform="translate(198.95,327.38) scale(0.88,1)">2.137</text>
<text x="0" y="0" font-size="6.1" fill="#222" text-anchor="middle" transform="translate(215.53,327.38) scale(0.88,1)">2.094</text>
<text x="0" y="0" font-size="6.1" fill="#222" text-anchor="middle" transform="translate(232.11,327.38) scale(0.88,1)">2.052</text>
<text x="0" y="0" font-size="6.1" fill="#222" text-anchor="middle" transform="translate(248.69,327.38) scale(0.88,1)">2.291</text>
<text x="265.27" y="327.38" font-size="6" fill="#222" text-anchor="middle">–</text>
<text x="0" y="0" font-size="6.1" fill="#222" text-anchor="middle" transform="translate(82.89,341.75) scale(0.88,1)">1.533</text>
<text x="0" y="0" font-size="6.1" fill="#222" text-anchor="middle" transform="translate(99.47,341.75) scale(0.88,1)">8.160</text>
<text x="0" y="0" font-size="6.1" fill="#222" text-anchor="middle" transform="translate(116.05,341.75) scale(0.88,1)">1.637</text>
<text x="0" y="0" font-size="6.1" fill="#222" text-anchor="middle" transform="translate(132.63,341.75) scale(0.88,1)">2.104</text>
<text x="0" y="0" font-size="6.1" fill="#222" text-anchor="middle" transform="translate(149.21,341.75) scale(0.88,1)">2.176</text>
<text x="0" y="0" font-size="6.1" fill="#222" text-anchor="middle" transform="translate(165.79,341.75) scale(0.88,1)">2.230</text>
<text x="0" y="0" font-size="6.1" fill="#222" text-anchor="middle" transform="translate(182.37,341.75) scale(0.88,1)">2.169</text>
<text x="0" y="0" font-size="6.1" fill="#222" text-anchor="middle" transform="translate(198.95,341.75) scale(0.88,1)">1.889</text>
<text x="0" y="0" font-size="6.1" fill="#222" text-anchor="middle" transform="translate(215.53,341.75) scale(0.88,1)">2.280</text>
<text x="0" y="0" font-size="6.1" fill="#222" text-anchor="middle" transform="translate(232.11,341.75) scale(0.88,1)">2.054</text>
<text x="248.69" y="341.75" font-size="6" fill="#222" text-anchor="middle">–</text>
<text x="0" y="0" font-size="6.1" fill="#222" text-anchor="middle" transform="translate(265.27,341.75) scale(0.88,1)">2.291</text>
<text x="0" y="0" font-size="6.1" fill="#222" text-anchor="middle" transform="translate(82.89,356.12) scale(0.88,1)">1.274</text>
<text x="0" y="0" font-size="6.1" fill="#222" text-anchor="middle" transform="translate(99.47,356.12) scale(0.88,1)">8.379</text>
<text x="0" y="0" font-size="6.1" fill="#222" text-anchor="middle" transform="translate(116.05,356.12) scale(0.88,1)">1.695</text>
<text x="0" y="0" font-size="6.1" fill="#222" text-anchor="middle" transform="translate(132.63,356.12) scale(0.88,1)">2.028</text>
<text x="0" y="0" font-size="6.1" fill="#222" text-anchor="middle" transform="translate(149.21,356.12) scale(0.88,1)">2.021</text>
<text x="0" y="0" font-size="6.1" fill="#222" text-anchor="middle" transform="translate(165.79,356.12) scale(0.88,1)">2.176</text>
<text x="0" y="0" font-size="6.1" fill="#222" text-anchor="middle" transform="translate(182.37,356.12) scale(0.88,1)">1.933</text>
<text x="0" y="0" font-size="6.1" fill="#222" text-anchor="middle" transform="translate(198.95,356.12) scale(0.88,1)">2.118</text>
<text x="0" y="0" font-size="6.1" fill="#222" text-anchor="middle" transform="translate(215.53,356.12) scale(0.88,1)">2.137</text>
<text x="232.11" y="356.12" font-size="6" fill="#222" text-anchor="middle">–</text>
<text x="0" y="0" font-size="6.1" fill="#222" text-anchor="middle" transform="translate(248.69,356.12) scale(0.88,1)">2.054</text>
<text x="0" y="0" font-size="6.1" fill="#222" text-anchor="middle" transform="translate(265.27,356.12) scale(0.88,1)">2.052</text>
<text x="0" y="0" font-size="6.1" fill="#222" text-anchor="middle" transform="translate(82.89,370.50) scale(0.88,1)">1.408</text>
<text x="0" y="0" font-size="6.1" fill="#222" text-anchor="middle" transform="translate(99.47,370.50) scale(0.88,1)">9.024</text>
<text x="0" y="0" font-size="6.1" fill="#222" text-anchor="middle" transform="translate(116.05,370.50) scale(0.88,1)">1.661</text>
<text x="0" y="0" font-size="6.1" fill="#222" text-anchor="middle" transform="translate(132.63,370.50) scale(0.88,1)">2.139</text>
<text x="0" y="0" font-size="6.1" fill="#222" text-anchor="middle" transform="translate(149.21,370.50) scale(0.88,1)">2.036</text>
<text x="0" y="0" font-size="6.1" fill="#222" text-anchor="middle" transform="translate(165.79,370.50) scale(0.88,1)">2.287</text>
<text x="0" y="0" font-size="6.1" fill="#222" text-anchor="middle" transform="translate(182.37,370.50) scale(0.88,1)">2.021</text>
<text x="0" y="0" font-size="6.1" fill="#222" text-anchor="middle" transform="translate(198.95,370.50) scale(0.88,1)">2.249</text>
<text x="215.53" y="370.50" font-size="6" fill="#222" text-anchor="middle">–</text>
<text x="0" y="0" font-size="6.1" fill="#222" text-anchor="middle" transform="translate(232.11,370.50) scale(0.88,1)">2.137</text>
<text x="0" y="0" font-size="6.1" fill="#222" text-anchor="middle" transform="translate(248.69,370.50) scale(0.88,1)">2.280</text>
<text x="0" y="0" font-size="6.1" fill="#222" text-anchor="middle" transform="translate(265.27,370.50) scale(0.88,1)">2.094</text>
<text x="0" y="0" font-size="6.1" fill="#222" text-anchor="middle" transform="translate(82.89,384.87) scale(0.88,1)">1.289</text>
<text x="0" y="0" font-size="6.1" fill="#222" text-anchor="middle" transform="translate(99.47,384.87) scale(0.88,1)">8.740</text>
<text x="0" y="0" font-size="6.1" fill="#222" text-anchor="middle" transform="translate(116.05,384.87) scale(0.88,1)">1.836</text>
<text x="0" y="0" font-size="6.1" fill="#222" text-anchor="middle" transform="translate(132.63,384.87) scale(0.88,1)">2.131</text>
<text x="0" y="0" font-size="6.1" fill="#222" text-anchor="middle" transform="translate(149.21,384.87) scale(0.88,1)">2.287</text>
<text x="0" y="0" font-size="6.1" fill="#222" text-anchor="middle" transform="translate(165.79,384.87) scale(0.88,1)">2.284</text>
<text x="0" y="0" font-size="6.1" fill="#222" text-anchor="middle" transform="translate(182.37,384.87) scale(0.88,1)">2.204</text>
<text x="198.95" y="384.87" font-size="6" fill="#222" text-anchor="middle">–</text>
<text x="0" y="0" font-size="6.1" fill="#222" text-anchor="middle" transform="translate(215.53,384.87) scale(0.88,1)">2.249</text>
<text x="0" y="0" font-size="6.1" fill="#222" text-anchor="middle" transform="translate(232.11,384.87) scale(0.88,1)">2.118</text>
<text x="0" y="0" font-size="6.1" fill="#222" text-anchor="middle" transform="translate(248.69,384.87) scale(0.88,1)">1.889</text>
<text x="0" y="0" font-size="6.1" fill="#222" text-anchor="middle" transform="translate(265.27,384.87) scale(0.88,1)">2.137</text>
<text x="0" y="0" font-size="6.1" fill="#222" text-anchor="middle" transform="translate(82.89,399.24) scale(0.88,1)">1.438</text>
<text x="0" y="0" font-size="6.1" fill="#222" text-anchor="middle" transform="translate(99.47,399.24) scale(0.88,1)">8.499</text>
<text x="0" y="0" font-size="6.1" fill="#222" text-anchor="middle" transform="translate(116.05,399.24) scale(0.88,1)">1.781</text>
<text x="0" y="0" font-size="6.1" fill="#222" text-anchor="middle" transform="translate(132.63,399.24) scale(0.88,1)">1.924</text>
<text x="0" y="0" font-size="6.1" fill="#222" text-anchor="middle" transform="translate(149.21,399.24) scale(0.88,1)">2.166</text>
<text x="0" y="0" font-size="6.1" fill="#222" text-anchor="middle" transform="translate(165.79,399.24) scale(0.88,1)">2.190</text>
<text x="182.37" y="399.24" font-size="6" fill="#222" text-anchor="middle">–</text>
<text x="0" y="0" font-size="6.1" fill="#222" text-anchor="middle" transform="translate(198.95,399.24) scale(0.88,1)">2.204</text>
<text x="0" y="0" font-size="6.1" fill="#222" text-anchor="middle" transform="translate(215.53,399.24) scale(0.88,1)">2.021</text>
<text x="0" y="0" font-size="6.1" fill="#222" text-anchor="middle" transform="translate(232.11,399.24) scale(0.88,1)">1.933</text>
<text x="0" y="0" font-size="6.1" fill="#222" text-anchor="middle" transform="translate(248.69,399.24) scale(0.88,1)">2.169</text>
<text x="0" y="0" font-size="6.1" fill="#222" text-anchor="middle" transform="translate(265.27,399.24) scale(0.88,1)">2.003</text>
<text x="0" y="0" font-size="6.1" fill="#222" text-anchor="middle" transform="translate(82.89,413.61) scale(0.88,1)">1.289</text>
<text x="0" y="0" font-size="6.1" fill="#222" text-anchor="middle" transform="translate(99.47,413.61) scale(0.88,1)">9.024</text>
<text x="0" y="0" font-size="6.1" fill="#222" text-anchor="middle" transform="translate(116.05,413.61) scale(0.88,1)">1.863</text>
<text x="0" y="0" font-size="6.1" fill="#222" text-anchor="middle" transform="translate(132.63,413.61) scale(0.88,1)">2.202</text>
<text x="0" y="0" font-size="6.1" fill="#222" text-anchor="middle" transform="translate(149.21,413.61) scale(0.88,1)">2.251</text>
<text x="165.79" y="413.61" font-size="6" fill="#222" text-anchor="middle">–</text>
<text x="0" y="0" font-size="6.1" fill="#222" text-anchor="middle" transform="translate(182.37,413.61) scale(0.88,1)">2.190</text>
<text x="0" y="0" font-size="6.1" fill="#222" text-anchor="middle" transform="translate(198.95,413.61) scale(0.88,1)">2.284</text>
<text x="0" y="0" font-size="6.1" fill="#222" text-anchor="middle" transform="translate(215.53,413.61) scale(0.88,1)">2.287</text>
<text x="0" y="0" font-size="6.1" fill="#222" text-anchor="middle" transform="translate(232.11,413.61) scale(0.88,1)">2.178</text>
<text x="0" y="0" font-size="6.1" fill="#222" text-anchor="middle" transform="translate(248.69,413.61) scale(0.88,1)">2.230</text>
<text x="0" y="0" font-size="6.1" fill="#222" text-anchor="middle" transform="translate(265.27,413.61) scale(0.88,1)">2.171</text>
<text x="0" y="0" font-size="6.1" fill="#222" text-anchor="middle" transform="translate(82.89,427.97) scale(0.88,1)">1.439</text>
<text x="0" y="0" font-size="6.1" fill="#222" text-anchor="middle" transform="translate(99.47,427.97) scale(0.88,1)">8.675</text>
<text x="0" y="0" font-size="6.1" fill="#222" text-anchor="middle" transform="translate(116.05,427.97) scale(0.88,1)">1.791</text>
<text x="0" y="0" font-size="6.1" fill="#222" text-anchor="middle" transform="translate(132.63,427.97) scale(0.88,1)">2.003</text>
<text x="149.21" y="427.97" font-size="6" fill="#222" text-anchor="middle">–</text>
<text x="0" y="0" font-size="6.1" fill="#222" text-anchor="middle" transform="translate(165.79,427.97) scale(0.88,1)">2.251</text>
<text x="0" y="0" font-size="6.1" fill="#222" text-anchor="middle" transform="translate(182.37,427.97) scale(0.88,1)">2.166</text>
<text x="0" y="0" font-size="6.1" fill="#222" text-anchor="middle" transform="translate(198.95,427.97) scale(0.88,1)">2.267</text>
<text x="0" y="0" font-size="6.1" fill="#222" text-anchor="middle" transform="translate(215.53,427.97) scale(0.88,1)">2.036</text>
<text x="0" y="0" font-size="6.1" fill="#222" text-anchor="middle" transform="translate(232.11,427.97) scale(0.88,1)">2.021</text>
<text x="0" y="0" font-size="6.1" fill="#222" text-anchor="middle" transform="translate(248.69,427.97) scale(0.88,1)">2.176</text>
<text x="0" y="0" font-size="6.1" fill="#222" text-anchor="middle" transform="translate(265.27,427.97) scale(0.88,1)">1.972</text>
<text x="0" y="0" font-size="6.1" fill="#222" text-anchor="middle" transform="translate(82.89,442.34) scale(0.88,1)">1.271</text>
<text x="0" y="0" font-size="6.1" fill="#222" text-anchor="middle" transform="translate(99.47,442.34) scale(0.88,1)">8.342</text>
<text x="0" y="0" font-size="6.1" fill="#222" text-anchor="middle" transform="translate(116.05,442.34) scale(0.88,1)">1.666</text>
<text x="132.63" y="442.34" font-size="6" fill="#222" text-anchor="middle">–</text>
<text x="0" y="0" font-size="6.1" fill="#222" text-anchor="middle" transform="translate(149.21,442.34) scale(0.88,1)">2.003</text>
<text x="0" y="0" font-size="6.1" fill="#222" text-anchor="middle" transform="translate(165.79,442.34) scale(0.88,1)">2.202</text>
<text x="0" y="0" font-size="6.1" fill="#222" text-anchor="middle" transform="translate(182.37,442.34) scale(0.88,1)">1.924</text>
<text x="0" y="0" font-size="6.1" fill="#222" text-anchor="middle" transform="translate(198.95,442.34) scale(0.88,1)">2.131</text>
<text x="0" y="0" font-size="6.1" fill="#222" text-anchor="middle" transform="translate(215.53,442.34) scale(0.88,1)">2.139</text>
<text x="0" y="0" font-size="6.1" fill="#222" text-anchor="middle" transform="translate(232.11,442.34) scale(0.88,1)">2.028</text>
<text x="0" y="0" font-size="6.1" fill="#222" text-anchor="middle" transform="translate(248.69,442.34) scale(0.88,1)">2.104</text>
<text x="0" y="0" font-size="6.1" fill="#222" text-anchor="middle" transform="translate(265.27,442.34) scale(0.88,1)">2.058</text>
<text x="0" y="0" font-size="6.1" fill="#222" text-anchor="middle" transform="translate(82.89,456.71) scale(0.88,1)">1.234</text>
<text x="0" y="0" font-size="6.1" fill="#222" text-anchor="middle" transform="translate(99.47,456.71) scale(0.88,1)">7.339</text>
<text x="116.05" y="456.71" font-size="6" fill="#222" text-anchor="middle">–</text>
<text x="0" y="0" font-size="6.1" fill="#222" text-anchor="middle" transform="translate(132.63,456.71) scale(0.88,1)">1.666</text>
<text x="0" y="0" font-size="6.1" fill="#222" text-anchor="middle" transform="translate(149.21,456.71) scale(0.88,1)">1.791</text>
<text x="0" y="0" font-size="6.1" fill="#222" text-anchor="middle" transform="translate(165.79,456.71) scale(0.88,1)">1.863</text>
<text x="0" y="0" font-size="6.1" fill="#222" text-anchor="middle" transform="translate(182.37,456.71) scale(0.88,1)">1.781</text>
<text x="0" y="0" font-size="6.1" fill="#222" text-anchor="middle" transform="translate(198.95,456.71) scale(0.88,1)">1.836</text>
<text x="0" y="0" font-size="6.1" fill="#222" text-anchor="middle" transform="translate(215.53,456.71) scale(0.88,1)">1.661</text>
<text x="0" y="0" font-size="6.1" fill="#222" text-anchor="middle" transform="translate(232.11,456.71) scale(0.88,1)">1.695</text>
<text x="0" y="0" font-size="6.1" fill="#222" text-anchor="middle" transform="translate(248.69,456.71) scale(0.88,1)">1.637</text>
<text x="0" y="0" font-size="6.1" fill="#222" text-anchor="middle" transform="translate(265.27,456.71) scale(0.88,1)">1.594</text>
<text x="0" y="0" font-size="6.1" fill="#222" text-anchor="middle" transform="translate(82.89,471.08) scale(0.88,1)">5.297</text>
<text x="99.47" y="471.08" font-size="6" fill="#222" text-anchor="middle">–</text>
<text x="0" y="0" font-size="6.1" fill="#222" text-anchor="middle" transform="translate(116.05,471.08) scale(0.88,1)">7.339</text>
<text x="0" y="0" font-size="6.1" fill="#222" text-anchor="middle" transform="translate(132.63,471.08) scale(0.88,1)">8.342</text>
<text x="0" y="0" font-size="6.1" fill="#222" text-anchor="middle" transform="translate(149.21,471.08) scale(0.88,1)">8.675</text>
<text x="0" y="0" font-size="6.1" fill="#222" text-anchor="middle" transform="translate(165.79,471.08) scale(0.88,1)">9.024</text>
<text x="0" y="0" font-size="6.1" fill="#222" text-anchor="middle" transform="translate(182.37,471.08) scale(0.88,1)">8.499</text>
<text x="0" y="0" font-size="6.1" fill="#222" text-anchor="middle" transform="translate(198.95,471.08) scale(0.88,1)">8.740</text>
<text x="0" y="0" font-size="6.1" fill="#222" text-anchor="middle" transform="translate(215.53,471.08) scale(0.88,1)">9.024</text>
<text x="0" y="0" font-size="6.1" fill="#222" text-anchor="middle" transform="translate(232.11,471.08) scale(0.88,1)">8.379</text>
<text x="0" y="0" font-size="6.1" fill="#222" text-anchor="middle" transform="translate(248.69,471.08) scale(0.88,1)">8.160</text>
<text x="0" y="0" font-size="6.1" fill="#222" text-anchor="middle" transform="translate(265.27,471.08) scale(0.88,1)">8.684</text>
<text x="82.89" y="485.45" font-size="6" fill="#222" text-anchor="middle">–</text>
<text x="0" y="0" font-size="6.1" fill="#222" text-anchor="middle" transform="translate(99.47,485.45) scale(0.88,1)">5.297</text>
<text x="0" y="0" font-size="6.1" fill="#222" text-anchor="middle" transform="translate(116.05,485.45) scale(0.88,1)">1.234</text>
<text x="0" y="0" font-size="6.1" fill="#222" text-anchor="middle" transform="translate(132.63,485.45) scale(0.88,1)">1.271</text>
<text x="0" y="0" font-size="6.1" fill="#222" text-anchor="middle" transform="translate(149.21,485.45) scale(0.88,1)">1.439</text>
<text x="0" y="0" font-size="6.1" fill="#222" text-anchor="middle" transform="translate(165.79,485.45) scale(0.88,1)">1.289</text>
<text x="0" y="0" font-size="6.1" fill="#222" text-anchor="middle" transform="translate(182.37,485.45) scale(0.88,1)">1.438</text>
<text x="0" y="0" font-size="6.1" fill="#222" text-anchor="middle" transform="translate(198.95,485.45) scale(0.88,1)">1.289</text>
<text x="0" y="0" font-size="6.1" fill="#222" text-anchor="middle" transform="translate(215.53,485.45) scale(0.88,1)">1.408</text>
<text x="0" y="0" font-size="6.1" fill="#222" text-anchor="middle" transform="translate(232.11,485.45) scale(0.88,1)">1.274</text>
<text x="0" y="0" font-size="6.1" fill="#222" text-anchor="middle" transform="translate(248.69,485.45) scale(0.88,1)">1.533</text>
<text x="0" y="0" font-size="6.1" fill="#222" text-anchor="middle" transform="translate(265.27,485.45) scale(0.88,1)">1.415</text>
<line x1="74.60" y1="318.0" x2="74.60" y2="490.44" stroke="#2a2a2a" stroke-width="0.9"/>
<line x1="91.18" y1="318.0" x2="91.18" y2="490.44" stroke="#2a2a2a" stroke-width="0.9"/>
<line x1="107.76" y1="318.0" x2="107.76" y2="490.44" stroke="#2a2a2a" stroke-width="0.9"/>
<line x1="124.34" y1="318.0" x2="124.34" y2="490.44" stroke="#2a2a2a" stroke-width="0.9"/>
<line x1="140.92" y1="318.0" x2="140.92" y2="490.44" stroke="#2a2a2a" stroke-width="0.9"/>
<line x1="157.50" y1="318.0" x2="157.50" y2="490.44" stroke="#2a2a2a" stroke-width="0.9"/>
<line x1="174.08" y1="318.0" x2="174.08" y2="490.44" stroke="#2a2a2a" stroke-width="0.9"/>
<line x1="190.66" y1="318.0" x2="190.66" y2="490.44" stroke="#2a2a2a" stroke-width="0.9"/>
<line x1="207.24" y1="318.0" x2="207.24" y2="490.44" stroke="#2a2a2a" stroke-width="0.9"/>
<line x1="223.82" y1="318.0" x2="223.82" y2="490.44" stroke="#2a2a2a" stroke-width="0.9"/>
<line x1="240.40" y1="318.0" x2="240.40" y2="490.44" stroke="#2a2a2a" stroke-width="0.9"/>
<line x1="256.98" y1="318.0" x2="256.98" y2="490.44" stroke="#2a2a2a" stroke-width="0.9"/>
<line x1="273.56" y1="318.0" x2="273.56" y2="490.44" stroke="#2a2a2a" stroke-width="0.9"/>
<line x1="74.6" y1="318.00" x2="273.56" y2="318.00" stroke="#2a2a2a" stroke-width="0.9"/>
<line x1="74.6" y1="332.37" x2="273.56" y2="332.37" stroke="#2a2a2a" stroke-width="0.9"/>
<line x1="74.6" y1="346.74" x2="273.56" y2="346.74" stroke="#2a2a2a" stroke-width="0.9"/>
<line x1="74.6" y1="361.11" x2="273.56" y2="361.11" stroke="#2a2a2a" stroke-width="0.9"/>
<line x1="74.6" y1="375.48" x2="273.56" y2="375.48" stroke="#2a2a2a" stroke-width="0.9"/>
<line x1="74.6" y1="389.85" x2="273.56" y2="389.85" stroke="#2a2a2a" stroke-width="0.9"/>
<line x1="74.6" y1="404.22" x2="273.56" y2="404.22" stroke="#2a2a2a" stroke-width="0.9"/>
<line x1="74.6" y1="418.59" x2="273.56" y2="418.59" stroke="#2a2a2a" stroke-width="0.9"/>
<line x1="74.6" y1="432.96" x2="273.56" y2="432.96" stroke="#2a2a2a" stroke-width="0.9"/>
<line x1="74.6" y1="447.33" x2="273.56" y2="447.33" stroke="#2a2a2a" stroke-width="0.9"/>
<line x1="74.6" y1="461.70" x2="273.56" y2="461.70" stroke="#2a2a2a" stroke-width="0.9"/>
<line x1="74.6" y1="476.07" x2="273.56" y2="476.07" stroke="#2a2a2a" stroke-width="0.9"/>
<line x1="74.6" y1="490.44" x2="273.56" y2="490.44" stroke="#2a2a2a" stroke-width="0.9"/>
<line x1="71.4" y1="325.19" x2="74.6" y2="325.19" stroke="#333" stroke-width="0.8"/>
<text x="69.4" y="327.58" font-size="7.5" fill="#444" font-weight="normal" text-anchor="end"  >hbac</text>
<line x1="71.4" y1="339.56" x2="74.6" y2="339.56" stroke="#333" stroke-width="0.8"/>
<text x="69.4" y="341.95" font-size="7.5" fill="#444" font-weight="normal" text-anchor="end"  >hbdc</text>
<line x1="71.4" y1="353.93" x2="74.6" y2="353.93" stroke="#333" stroke-width="0.8"/>
<text x="69.4" y="356.32" font-size="7.5" fill="#444" font-weight="normal" text-anchor="end"  >hac</text>
<line x1="71.4" y1="368.30" x2="74.6" y2="368.30" stroke="#333" stroke-width="0.8"/>
<text x="69.4" y="370.69" font-size="7.5" fill="#444" font-weight="normal" text-anchor="end"  >tpsa</text>
<line x1="71.4" y1="382.67" x2="74.6" y2="382.67" stroke="#333" stroke-width="0.8"/>
<text x="69.4" y="385.06" font-size="7.5" fill="#444" font-weight="normal" text-anchor="end"  >et</text>
<line x1="71.4" y1="397.04" x2="74.6" y2="397.04" stroke="#333" stroke-width="0.8"/>
<text x="69.4" y="399.44" font-size="7.5" fill="#444" font-weight="normal" text-anchor="end"  >bp</text>
<line x1="71.4" y1="411.41" x2="74.6" y2="411.41" stroke="#333" stroke-width="0.8"/>
<text x="69.4" y="413.81" font-size="7.5" fill="#444" font-weight="normal" text-anchor="end"  >mp</text>
<line x1="71.4" y1="425.77" x2="74.6" y2="425.77" stroke="#333" stroke-width="0.8"/>
<text x="69.4" y="428.17" font-size="7.5" fill="#444" font-weight="normal" text-anchor="end"  >pho</text>
<line x1="71.4" y1="440.14" x2="74.6" y2="440.14" stroke="#333" stroke-width="0.8"/>
<text x="69.4" y="442.54" font-size="7.5" fill="#444" font-weight="normal" text-anchor="end"  >mw</text>
<line x1="71.4" y1="454.51" x2="74.6" y2="454.51" stroke="#333" stroke-width="0.8"/>
<text x="69.4" y="456.91" font-size="7.5" fill="#444" font-weight="normal" text-anchor="end"  >dn</text>
<line x1="71.4" y1="468.88" x2="74.6" y2="468.88" stroke="#333" stroke-width="0.8"/>
<text x="69.4" y="471.28" font-size="7.5" fill="#444" font-weight="normal" text-anchor="end"  >dc</text>
<line x1="71.4" y1="483.25" x2="74.6" y2="483.25" stroke="#333" stroke-width="0.8"/>
<text x="69.4" y="485.65" font-size="7.5" fill="#444" font-weight="normal" text-anchor="end"  >dm</text>
<line x1="82.89" y1="490.44" x2="82.89" y2="493.44" stroke="#333" stroke-width="0.8"/>
<text x="0" y="0" font-size="7.5" fill="#444" text-anchor="end" transform="translate(85.49,495.44) rotate(-90)">dm</text>
<line x1="99.47" y1="490.44" x2="99.47" y2="493.44" stroke="#333" stroke-width="0.8"/>
<text x="0" y="0" font-size="7.5" fill="#444" text-anchor="end" transform="translate(102.07,495.44) rotate(-90)">dc</text>
<line x1="116.05" y1="490.44" x2="116.05" y2="493.44" stroke="#333" stroke-width="0.8"/>
<text x="0" y="0" font-size="7.5" fill="#444" text-anchor="end" transform="translate(118.65,495.44) rotate(-90)">dn</text>
<line x1="132.63" y1="490.44" x2="132.63" y2="493.44" stroke="#333" stroke-width="0.8"/>
<text x="0" y="0" font-size="7.5" fill="#444" text-anchor="end" transform="translate(135.23,495.44) rotate(-90)">mw</text>
<line x1="149.21" y1="490.44" x2="149.21" y2="493.44" stroke="#333" stroke-width="0.8"/>
<text x="0" y="0" font-size="7.5" fill="#444" text-anchor="end" transform="translate(151.81,495.44) rotate(-90)">pho</text>
<line x1="165.79" y1="490.44" x2="165.79" y2="493.44" stroke="#333" stroke-width="0.8"/>
<text x="0" y="0" font-size="7.5" fill="#444" text-anchor="end" transform="translate(168.39,495.44) rotate(-90)">mp</text>
<line x1="182.37" y1="490.44" x2="182.37" y2="493.44" stroke="#333" stroke-width="0.8"/>
<text x="0" y="0" font-size="7.5" fill="#444" text-anchor="end" transform="translate(184.97,495.44) rotate(-90)">bp</text>
<line x1="198.95" y1="490.44" x2="198.95" y2="493.44" stroke="#333" stroke-width="0.8"/>
<text x="0" y="0" font-size="7.5" fill="#444" text-anchor="end" transform="translate(201.55,495.44) rotate(-90)">et</text>
<line x1="215.53" y1="490.44" x2="215.53" y2="493.44" stroke="#333" stroke-width="0.8"/>
<text x="0" y="0" font-size="7.5" fill="#444" text-anchor="end" transform="translate(218.13,495.44) rotate(-90)">tpsa</text>
<line x1="232.11" y1="490.44" x2="232.11" y2="493.44" stroke="#333" stroke-width="0.8"/>
<text x="0" y="0" font-size="7.5" fill="#444" text-anchor="end" transform="translate(234.71,495.44) rotate(-90)">hac</text>
<line x1="248.69" y1="490.44" x2="248.69" y2="493.44" stroke="#333" stroke-width="0.8"/>
<text x="0" y="0" font-size="7.5" fill="#444" text-anchor="end" transform="translate(251.29,495.44) rotate(-90)">hbdc</text>
<line x1="265.27" y1="490.44" x2="265.27" y2="493.44" stroke="#333" stroke-width="0.8"/>
<text x="0" y="0" font-size="7.5" fill="#444" text-anchor="end" transform="translate(267.87,495.44) rotate(-90)">hbac</text>
<rect x="284.4" y="335.3" width="7.2" height="153.2" fill="url(#gCB)" stroke="#3a3a3a" stroke-width="0.7"/>
<text x="292.2" y="327" font-size="8" fill="#333" font-weight="normal" text-anchor="middle"  >RMSE</text>
<line x1="291.6" y1="352" x2="294.6" y2="352" stroke="#333" stroke-width="0.8"/>
<text x="296.8" y="354.2" font-size="6.5" fill="#333" font-weight="normal" text-anchor="start"  >2.2</text>
<line x1="291.6" y1="382" x2="294.6" y2="382" stroke="#333" stroke-width="0.8"/>
<text x="296.8" y="384.2" font-size="6.5" fill="#333" font-weight="normal" text-anchor="start"  >2.0</text>
<line x1="291.6" y1="412" x2="294.6" y2="412" stroke="#333" stroke-width="0.8"/>
<text x="296.8" y="414.2" font-size="6.5" fill="#333" font-weight="normal" text-anchor="start"  >1.8</text>
<line x1="291.6" y1="442.6" x2="294.6" y2="442.6" stroke="#333" stroke-width="0.8"/>
<text x="296.8" y="444.8" font-size="6.5" fill="#333" font-weight="normal" text-anchor="start"  >1.5</text>
<line x1="291.6" y1="472.7" x2="294.6" y2="472.7" stroke="#333" stroke-width="0.8"/>
<text x="296.8" y="474.9" font-size="6.5" fill="#333" font-weight="normal" text-anchor="start"  >1.3</text>
<text x="324.5" y="323" font-size="20" fill="#111" font-weight="normal" text-anchor="start"  >c</text>
<rect x="375.7" y="314.3" width="68.5" height="170.3" fill="#fdf0e9"/>
<rect x="444.2" y="314.3" width="140.3" height="123.7" fill="#fdeeee"/>
<rect x="444.2" y="438" width="140.3" height="46.6" fill="#edf7f0"/>
<line x1="444.2" y1="314.3" x2="444.2" y2="484.6" stroke="#8c8c8c" stroke-width="1.2" stroke-dasharray="5,3.5"/>
<line x1="444.2" y1="438" x2="584.5" y2="438" stroke="#8c8c8c" stroke-width="1.2" stroke-dasharray="5,3.5"/>
<rect x="375.7" y="314.3" width="208.8" height="170.3" fill="none" stroke="#222" stroke-width="1.2"/>
<line x1="372.6" y1="323.8" x2="375.7" y2="323.8" stroke="#222" stroke-width="1"/>
<text x="370.5" y="327.1" font-size="9.5" fill="#444" font-weight="normal" text-anchor="end"  >40</text>
<line x1="372.6" y1="375.6" x2="375.7" y2="375.6" stroke="#222" stroke-width="1"/>
<text x="370.5" y="378.90000000000003" font-size="9.5" fill="#444" font-weight="normal" text-anchor="end"  >30</text>
<line x1="372.6" y1="447.3" x2="375.7" y2="447.3" stroke="#222" stroke-width="1"/>
<text x="370.5" y="450.6" font-size="9.5" fill="#444" font-weight="normal" text-anchor="end"  >20</text>
<line x1="372.6" y1="484.6" x2="375.7" y2="484.6" stroke="#222" stroke-width="1"/>
<text x="370.5" y="487.90000000000003" font-size="9.5" fill="#444" font-weight="normal" text-anchor="end"  >10</text>
<line x1="373.6" y1="466" x2="375.7" y2="466" stroke="#222" stroke-width="1"/>
<line x1="394.5" y1="484.6" x2="394.5" y2="487.6" stroke="#222" stroke-width="1"/>
<text x="394.5" y="497.1" font-size="9.5" fill="#444" font-weight="normal" text-anchor="middle"  >2</text>
<line x1="417.5" y1="484.6" x2="417.5" y2="487.6" stroke="#222" stroke-width="1"/>
<text x="417.5" y="497.1" font-size="9.5" fill="#444" font-weight="normal" text-anchor="middle"  >3</text>
<line x1="505.4" y1="484.6" x2="505.4" y2="487.6" stroke="#222" stroke-width="1"/>
<text x="505.4" y="497.1" font-size="9.5" fill="#444" font-weight="normal" text-anchor="middle"  >4</text>
<line x1="382.7" y1="484.6" x2="382.7" y2="486.6" stroke="#222" stroke-width="1"/>
<line x1="406" y1="484.6" x2="406" y2="486.6" stroke="#222" stroke-width="1"/>
<line x1="462" y1="484.6" x2="462" y2="486.6" stroke="#222" stroke-width="1"/>
<line x1="550" y1="484.6" x2="550" y2="486.6" stroke="#222" stroke-width="1"/>
<path d="M371.3,338.8L376.3,336.40000000000003" stroke="#222" stroke-width="1.1"/>
<path d="M371.3,426.09999999999997L376.3,423.7" stroke="#222" stroke-width="1.1"/>
<path d="M582.5,338.4L587.5,336.0" stroke="#222" stroke-width="1.1"/>
<path d="M582.5,425.5L587.5,423.1" stroke="#222" stroke-width="1.1"/>
<path d="M417.2,316.3L419.59999999999997,311.3" stroke="#222" stroke-width="1.1"/>
<path d="M417.2,487.5L419.59999999999997,482.5" stroke="#222" stroke-width="1.1"/>
<text x="480.5" y="514.4" font-size="11" fill="#333" font-weight="normal" text-anchor="middle"  >Dipole Moment (debye)</text>
<text x="0" y="0" font-size="11" fill="#333" text-anchor="middle" transform="translate(356,403) rotate(-90)">Donor Number (kcal mol<tspan font-size="7" dy="-4">-1</tspan><tspan dy="4">)</tspan></text>
<path d="M380,350.6H383.3M380,356.59999999999997H383.3M381.65,350V357.2" stroke="#1a1a1a" stroke-width="1.3" fill="none"/>
<path d="M450.4,320.20000000000005H458.2M450.4,326.2H458.2M451.40,319.6V326.8M454.30,319.6V326.8M457.20,319.6V326.8" stroke="#1a1a1a" stroke-width="1.3" fill="none"/>
<path d="M450.4,443.1H456.2M450.4,449.09999999999997H456.2M451.40,442.5V449.7M455.20,442.5V449.7" stroke="#1a1a1a" stroke-width="1.3" fill="none"/>
<text x="388.5" y="358.5" font-size="11" fill="#ee8550" font-weight="normal" text-anchor="start"  >shielding</text>
<text x="389" y="372.3" font-size="11" fill="#ee8550" font-weight="normal" text-anchor="start"  >additives</text>
<text x="468" y="327.7" font-size="11.2" fill="#e24a56" font-weight="normal" text-anchor="start"  >affinitive additives</text>
<text x="466.4" y="450.3" font-size="11" fill="#5cb77a" font-weight="normal" text-anchor="start"  >inert additives</text>
<circle cx="389.5" cy="316.6" r="3" fill="#ec6d2c"/>
<circle cx="378.6" cy="327.9" r="4.3" fill="#ec6d2c"/>
<circle cx="400.5" cy="447.5" r="3.8" fill="#ec6d2c"/>
<circle cx="414.2" cy="425.2" r="3" fill="#ec6d2c"/>
<circle cx="413.2" cy="436.2" r="3" fill="#ec6d2c"/>
<circle cx="414.5" cy="451.2" r="3.3" fill="#ec6d2c"/>
<text x="392" y="328.9" font-size="9.5" fill="#e8733a" font-weight="bold" text-anchor="start"  >TAA</text>
<text x="383.2" y="342.9" font-size="9.5" fill="#e8733a" font-weight="bold" text-anchor="start"  >TBA</text>
<text x="417.7" y="419.7" font-size="9.5" fill="#e8733a" font-weight="bold" text-anchor="start"  >TEP</text>
<text x="420" y="439.2" font-size="9.5" fill="#e8733a" font-weight="bold" text-anchor="start"  >TMP</text>
<text x="378.8" y="450.7" font-size="9.5" fill="#e8733a" font-weight="bold" text-anchor="start"  >EG</text>
<text x="401.8" y="465.8" font-size="9.5" fill="#e8733a" font-weight="bold" text-anchor="start"  >MeOH</text>
<circle cx="514.2" cy="378.2" r="10.8" fill="#c0091d"/>
<circle cx="480.7" cy="403.4" r="6.9" fill="#c0091d"/>
<circle cx="486.5" cy="419.4" r="6.5" fill="#c0091d"/>
<circle cx="513.6" cy="410.3" r="6.9" fill="#c0091d"/>
<text x="499.5" y="365.6" font-size="9.5" fill="#c8102e" font-weight="bold" text-anchor="start"  >DMSO</text>
<text x="548.7" y="365.2" font-size="9.5" fill="#c8102e" font-weight="bold" text-anchor="start"  >DMU</text>
<text x="463.4" y="394.4" font-size="9.5" fill="#c8102e" font-weight="bold" text-anchor="start"  >DMAC</text>
<text x="521.8" y="396.6" font-size="9.5" fill="#c8102e" font-weight="bold" text-anchor="start"  >MF</text>
<text x="524.4" y="413.5" font-size="9.5" fill="#c8102e" font-weight="bold" text-anchor="start"  >NMP</text>
<text x="477.9" y="435.2" font-size="9.5" fill="#c8102e" font-weight="bold" text-anchor="start"  >DMF</text>
<path d="M495.8,408.1L518,394.7" stroke="#222" stroke-width="1.1"/>
<polygon points="490.20,405.00 492.32,410.59 498.28,410.87 493.62,414.61 495.20,420.38 490.20,417.10 485.20,420.38 486.78,414.61 482.12,410.87 488.08,410.59" fill="#e8405a" stroke="#8a3ce0" stroke-width="1.6" stroke-linejoin="miter"/>
<polygon points="558.20,369.00 560.79,375.94 568.19,376.26 562.38,380.86 564.37,387.99 558.20,383.90 552.03,387.99 554.02,380.86 548.21,376.26 555.61,375.94" fill="#4ca63e"/>
<polygon points="558.20,373.00 559.79,377.32 564.38,377.49 560.77,380.33 562.02,384.76 558.20,382.20 554.38,384.76 555.63,380.33 552.02,377.49 556.61,377.32" fill="#e8141c"/>
<circle cx="456.1" cy="469.4" r="4" fill="#46a865"/>
<circle cx="565.2" cy="466.7" r="3.5" fill="#46a865"/>
<text x="463.8" y="472.7" font-size="9.5" fill="#4aa86a" font-weight="bold" text-anchor="start"  >ACN</text>
<text x="559.5" y="461.5" font-size="9.5" fill="#4aa86a" font-weight="bold" text-anchor="start"  >SL</text>
<text x="623" y="336.5" font-size="11" fill="#222" font-weight="normal" text-anchor="middle"  >Life span at</text>
<text x="624.3" y="350.5" font-size="11" fill="#222" font-weight="normal" text-anchor="middle"  >60% DOD (h)</text>
<circle cx="609.5" cy="368.7" r="2.9" fill="none" stroke="#222" stroke-width="0.9"/>
<text x="635.5" y="371.8" font-size="9.5" fill="#333" font-weight="normal" text-anchor="start"  >5</text>
<circle cx="609.5" cy="391.2" r="10.7" fill="none" stroke="#222" stroke-width="0.9"/>
<text x="624.4" y="394.5" font-size="9.5" fill="#333" font-weight="normal" text-anchor="start"  >300</text>
<polygon points="612.80,417.70 614.97,423.51 621.17,423.78 616.32,427.64 617.97,433.62 612.80,430.20 607.63,433.62 609.28,427.64 604.43,423.78 610.63,423.51" fill="#e8141c"/>
<text x="616.7" y="448.1" font-size="11" fill="#222" font-weight="normal" text-anchor="middle"  >potential</text>
<text x="618.6" y="464.7" font-size="11" fill="#222" font-weight="normal" text-anchor="middle"  >candidates</text>
</svg></body></html>
